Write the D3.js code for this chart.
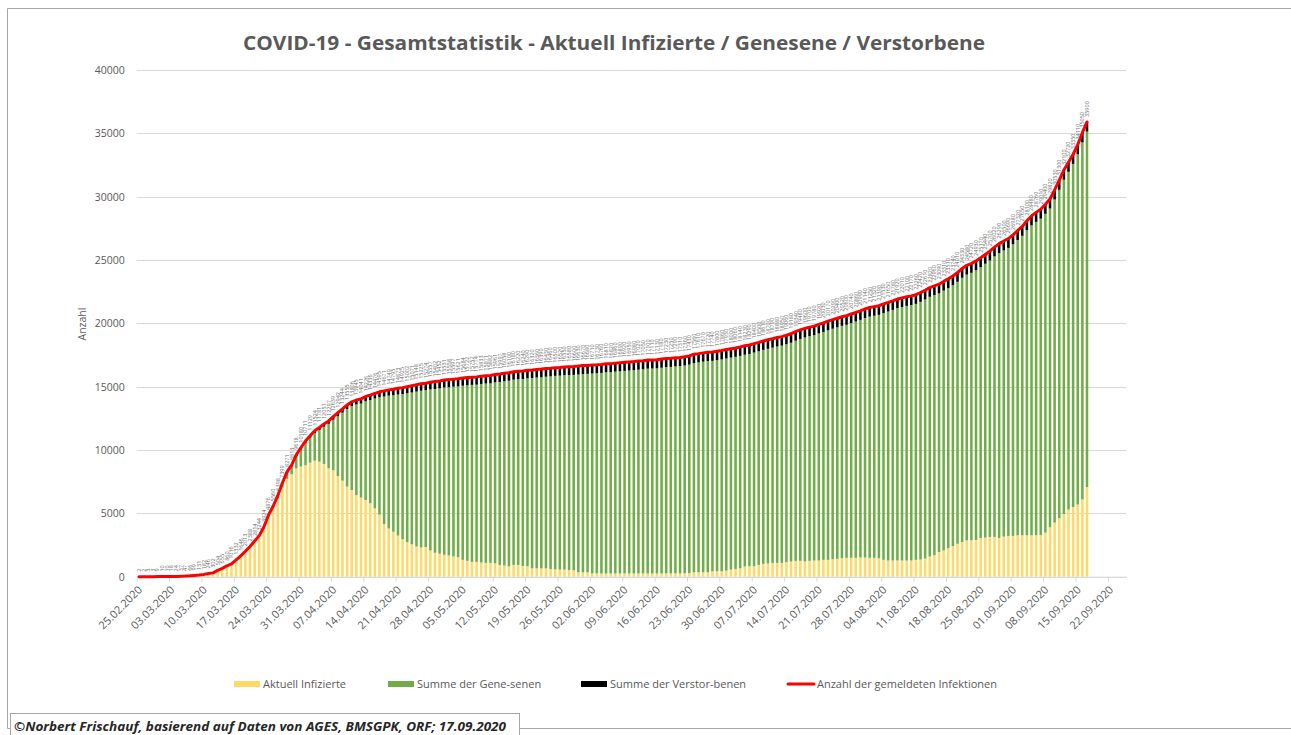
<!DOCTYPE html>
<html>
<head>
<meta charset="utf-8">
<script src="https://cdn.jsdelivr.net/npm/d3@7"></script>
<style>
  body { margin: 0; background: #fff; }
  svg { display: block; font-family: "Open Sans", sans-serif; }
</style>
</head>
<body>
<script>
const width = 1291;
const height = 735;

const title = 'COVID-19 - Gesamtstatistik - Aktuell Infizierte / Genesene / Verstorbene';
const footer = '©Norbert Frischauf,  basierend auf Daten von AGES, BMSGPK, ORF; 17.09.2020';

// first reported day and last reported day (17.09.2020)
const firstDay = '25.02.2020';
const lastDay = '17.09.2020';
const axisLastDay = '26.09.2020';

const tickLabels = [
  '25.02.2020', '03.03.2020', '10.03.2020', '17.03.2020', '24.03.2020', '31.03.2020',
  '07.04.2020', '14.04.2020', '21.04.2020', '28.04.2020', '05.05.2020', '12.05.2020',
  '19.05.2020', '26.05.2020', '02.06.2020', '09.06.2020', '16.06.2020', '23.06.2020',
  '30.06.2020', '07.07.2020', '14.07.2020', '21.07.2020', '28.07.2020', '04.08.2020',
  '11.08.2020', '18.08.2020', '25.08.2020', '01.09.2020', '08.09.2020', '15.09.2020',
  '22.09.2020'
];

const yTicks = [0, 5000, 10000, 15000, 20000, 25000, 30000, 35000, 40000];

// gemeldete Infektionen (gesamt), one value per day
const total = [
  2, 2, 3, 3, 9, 10, 10, 18, 24, 37,
  47, 66, 99, 131, 182, 246, 302, 504, 655, 860,
  1016, 1332, 1646, 2013, 2388, 2814, 3244, 3924, 4876, 5560,
  6398, 7399, 8271, 8813, 9618, 10180, 10711, 11129, 11524, 11781,
  12051, 12297, 12639, 12942, 13244, 13555, 13806, 13945, 14041, 14226,
  14336, 14476, 14595, 14671, 14749, 14795, 14873, 14925, 15002, 15071,
  15148, 15225, 15274, 15357, 15402, 15452, 15531, 15558, 15597, 15621,
  15684, 15722, 15752, 15774, 15833, 15871, 15882, 15961, 15997, 16058,
  16100, 16180, 16220, 16240, 16290, 16320, 16360, 16390, 16430, 16460,
  16500, 16520, 16550, 16580, 16600, 16630, 16670, 16680, 16710, 16730,
  16760, 16810, 16820, 16860, 16890, 16920, 16950, 16980, 17020, 17050,
  17100, 17110, 17130, 17180, 17230, 17250, 17290, 17310, 17360, 17430,
  17560, 17610, 17670, 17720, 17740, 17800, 17860, 17930, 18000, 18060,
  18140, 18230, 18290, 18400, 18500, 18610, 18700, 18790, 18880, 18950,
  19060, 19180, 19340, 19480, 19600, 19700, 19780, 19920, 20030, 20170,
  20290, 20400, 20520, 20600, 20740, 20860, 20990, 21140, 21250, 21320,
  21390, 21530, 21650, 21780, 21920, 22010, 22100, 22170, 22260, 22420,
  22610, 22820, 22960, 23090, 23310, 23510, 23740, 24010, 24330, 24580,
  24720, 24930, 25170, 25440, 25700, 26020, 26290, 26500, 26690, 26980,
  27320, 27650, 28100, 28480, 28760, 29010, 29400, 29820, 30530, 31300,
  32100, 32720, 33350, 34110, 35050, 35900
];

// aktuell Infizierte
const active = [
  2, 2, 3, 3, 9, 10, 10, 18, 24, 37,
  47, 66, 97, 127, 176, 240, 295, 497, 648, 853,
  1007, 1323, 1633, 1998, 2373, 2797, 3219, 3894, 4842, 5521,
  6180, 7040, 7720, 8090, 8550, 8700, 8800, 9000, 9160, 9080,
  8900, 8560, 8400, 7950, 7580, 7110, 6840, 6450, 6250, 6050,
  5800, 5400, 4900, 4150, 3800, 3550, 3250, 2950, 2740, 2550,
  2390, 2310, 2340, 2070, 1890, 1810, 1730, 1680, 1600, 1540,
  1330, 1250, 1170, 1170, 1120, 1090, 1090, 1060, 930, 880,
  820, 930, 930, 850, 820, 660, 660, 660, 660, 610,
  585, 560, 560, 530, 505, 345, 345, 345, 265, 260,
  255, 250, 250, 245, 250, 255, 250, 255, 260, 255,
  250, 250, 255, 260, 265, 260, 265, 260, 270, 290,
  345, 345, 345, 345, 425, 425, 425, 480, 560, 610,
  665, 800, 825, 825, 930, 1010, 1040, 1090, 1090, 1090,
  1145, 1200, 1250, 1250, 1200, 1250, 1275, 1275, 1330, 1330,
  1380, 1410, 1460, 1490, 1490, 1490, 1515, 1515, 1490, 1490,
  1460, 1330, 1275, 1275, 1275, 1275, 1275, 1275, 1330, 1356,
  1436, 1596, 1700, 1940, 2075, 2260, 2420, 2600, 2740, 2870,
  2870, 2900, 3060, 3085, 3140, 3140, 3060, 3165, 3220, 3220,
  3270, 3270, 3270, 3270, 3270, 3300, 3480, 3900, 4270, 4620,
  4950, 5300, 5500, 5700, 6100, 7070
];

// Summe der Verstorbenen
const deaths = [
  0, 0, 0, 0, 0, 0, 0, 0, 0, 0,
  0, 0, 0, 0, 0, 0, 1, 1, 1, 1,
  3, 3, 4, 6, 6, 8, 16, 21, 25, 30,
  49, 58, 68, 86, 108, 128, 146, 158, 168, 186,
  204, 220, 243, 273, 295, 319, 337, 350, 368, 384,
  393, 410, 431, 443, 452, 470, 491, 510, 522, 530,
  536, 542, 549, 569, 580, 584, 589, 596, 598, 600,
  606, 608, 609, 614, 615, 618, 620, 623, 624, 626,
  628, 628, 629, 629, 632, 633, 635, 640, 641, 643,
  643, 645, 645, 668, 668, 668, 668, 668, 668, 670,
  672, 672, 672, 672, 672, 673, 673, 673, 677, 677,
  677, 678, 678, 680, 682, 686, 687, 688, 688, 690,
  691, 693, 694, 698, 702, 703, 705, 705, 705, 705,
  705, 705, 706, 706, 706, 706, 708, 708, 708, 709,
  710, 710, 710, 710, 711, 711, 711, 711, 711, 712,
  712, 712, 713, 713, 713, 714, 716, 718, 718, 719,
  719, 719, 719, 719, 719, 719, 721, 721, 721, 722,
  722, 723, 724, 726, 727, 728, 728, 728, 730, 730,
  731, 733, 733, 733, 733, 734, 735, 735, 735, 736,
  738, 741, 743, 746, 747, 747, 750, 752, 755, 757,
  758, 758, 758, 758, 760, 763
];

const seriesNames = ['Aktuell Infizierte', 'Summe der Gene-senen', 'Summe der Verstor-benen', 'Anzahl der gemeldeten Infektionen'];
const seriesColors = ['#ffd966', '#70ad47', '#000000', '#ff0000'];

const parseDay = d3.utcParse('%d.%m.%Y');
const days = d3.utcDay.range(parseDay(firstDay), d3.utcDay.offset(parseDay(lastDay), 1));

const rows = days.map((date, i) => ({
  date,
  active: active[i],
  recovered: total[i] - active[i] - deaths[i],
  deaths: deaths[i],
  total: total[i]
}));

const plot = { left: 136.7, right: 1126.3, top: 70, bottom: 576.7 };

const x = d3.scaleUtc()
  .domain([parseDay(firstDay), parseDay(axisLastDay)])
  .range([plot.left, plot.right]);

const y = d3.scaleLinear()
  .domain([0, 40000])
  .range([plot.bottom, plot.top]);

const slot = x(days[1]) - x(days[0]);
const barW = slot * 0.55;
const cx = d => x(d.date) + slot / 2;

const svg = d3.select('body').append('svg')
  .attr('width', width)
  .attr('height', height);

// chart frame
svg.append('path')
  .attr('d', `M${width},8.5 H7.5 V728.5 H${width}`)
  .attr('fill', 'none')
  .attr('stroke', '#a6a6a6');

// title
svg.append('text')
  .attr('x', 614)
  .attr('y', 50)
  .attr('text-anchor', 'middle')
  .attr('font-size', 19.5)
  .attr('font-weight', 'bold')
  .attr('fill', '#595959')
  .attr('textLength', 742)
  .attr('lengthAdjust', 'spacingAndGlyphs')
  .text(title);

// gridlines
svg.append('g')
  .selectAll('line')
  .data(yTicks)
  .join('line')
  .attr('x1', plot.left)
  .attr('x2', plot.right)
  .attr('y1', d => Math.round(y(d)) + 0.5)
  .attr('y2', d => Math.round(y(d)) + 0.5)
  .attr('stroke', '#d9d9d9');

// y axis labels
const yAxis = svg.append('g')
  .attr('transform', `translate(${plot.left},0)`)
  .call(d3.axisLeft(y).tickValues(yTicks).tickSize(0).tickPadding(12).tickFormat(d3.format('d')));
yAxis.select('.domain').remove();
yAxis.selectAll('text')
  .attr('font-family', '"Open Sans", sans-serif')
  .attr('font-size', 10.5)
  .attr('fill', '#595959');

svg.append('text')
  .attr('transform', 'translate(86,324) rotate(-90)')
  .attr('text-anchor', 'middle')
  .attr('font-size', 10.5)
  .attr('fill', '#595959')
  .text('Anzahl');

// stacked bars
const stack = d3.stack().keys(['active', 'recovered', 'deaths']);
const layers = stack(rows);

svg.append('g')
  .selectAll('g')
  .data(layers)
  .join('g')
  .attr('fill', (d, i) => seriesColors[i])
  .selectAll('rect')
  .data(d => d)
  .join('rect')
  .attr('x', d => cx(d.data) - barW / 2)
  .attr('width', barW)
  .attr('y', d => y(d[1]))
  .attr('height', d => Math.max(0, y(d[0]) - y(d[1])));

// x axis
const xAxis = svg.append('g')
  .attr('transform', `translate(0,${plot.bottom})`)
  .call(d3.axisBottom(x)
    .tickValues(tickLabels.map(parseDay))
    .tickSize(5)
    .tickSizeOuter(0)
    .tickFormat((d, i) => tickLabels[i]));
xAxis.select('.domain').attr('stroke', '#d9d9d9');
xAxis.selectAll('.tick line').attr('stroke', '#d9d9d9');
xAxis.selectAll('text')
  .attr('font-family', '"Open Sans", sans-serif')
  .attr('font-size', 11)
  .attr('fill', '#595959')
  .attr('x', 0)
  .attr('y', 0)
  .attr('dy', '0.35em')
  .attr('text-anchor', 'end')
  .attr('transform', 'translate(3,11) rotate(-45)');

// total line
const line = d3.line()
  .x(d => cx(d))
  .y(d => y(d.total));

svg.append('path')
  .datum(rows)
  .attr('d', line)
  .attr('fill', 'none')
  .attr('stroke', seriesColors[3])
  .attr('stroke-width', 3)
  .attr('stroke-linejoin', 'round')
  .attr('stroke-linecap', 'round');

// data labels
svg.append('g')
  .selectAll('text')
  .data(rows)
  .join('text')
  .attr('transform', d => `translate(${cx(d) + 1.9},${y(d.total) - 5}) rotate(-90)`)
  .attr('font-size', 5.5)
  .attr('fill', '#6f6f6f')
  .text(d => d.total);

// legend
const legendX = [234, 388, 581, 788];
const legend = svg.append('g')
  .selectAll('g')
  .data(seriesNames)
  .join('g')
  .attr('transform', (d, i) => `translate(${legendX[i]},684)`);

legend.each(function (d, i) {
  const g = d3.select(this);
  if (i < 3) {
    g.append('rect').attr('x', 0).attr('y', -3).attr('width', 26).attr('height', 6).attr('fill', seriesColors[i]);
  } else {
    g.append('line').attr('x1', 0).attr('x2', 26).attr('y1', 0).attr('y2', 0)
      .attr('stroke', seriesColors[i]).attr('stroke-width', 3).attr('stroke-linecap', 'round');
  }
  g.append('text')
    .attr('x', 29)
    .attr('dy', '0.35em')
    .attr('font-size', 11)
    .attr('fill', '#595959')
    .text(d);
});

// footer box
svg.append('rect')
  .attr('x', 10.5)
  .attr('y', 713.5)
  .attr('width', 509)
  .attr('height', 30)
  .attr('fill', '#fff')
  .attr('stroke', '#a6a6a6');

svg.append('text')
  .attr('x', 14)
  .attr('y', 731)
  .attr('font-size', 12)
  .attr('font-weight', 'bold')
  .attr('font-style', 'italic')
  .attr('fill', '#262626')
  .attr('textLength', 492)
  .attr('lengthAdjust', 'spacingAndGlyphs')
  .text(footer);
</script>
</body>
</html>
